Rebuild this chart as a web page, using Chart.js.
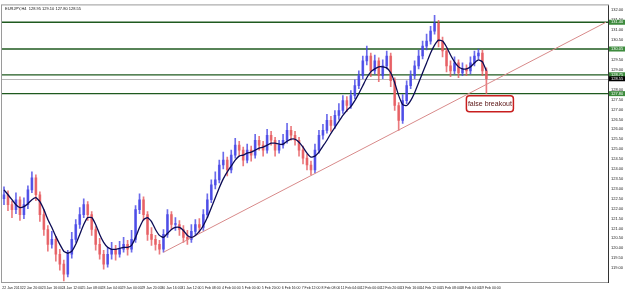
<!DOCTYPE html>
<html>
<head>
<meta charset="utf-8">
<script src="https://cdn.jsdelivr.net/npm/chart.js@4/dist/chart.umd.min.js"></script>
<style>
  html, body { margin: 0; padding: 0; background: #ffffff; }
  canvas { display: block; }
</style>
</head>
<body>
<canvas id="chart" width="625" height="295"></canvas>
<script>
var symbolTitle = "EURJPY,H4  128.95 129.10 127.80 128.55";

// one label every 5 bars
var dateLabels = [
  "22 Jan 2013", "22 Jan 20:00", "23 Jan 16:00", "24 Jan 12:00", "25 Jan 08:00",
  "28 Jan 04:00", "29 Jan 00:00", "29 Jan 20:00", "30 Jan 16:00", "31 Jan 12:00",
  "1 Feb 08:00", "4 Feb 04:00", "5 Feb 00:00", "5 Feb 20:00", "6 Feb 16:00",
  "7 Feb 12:00", "8 Feb 08:00", "11 Feb 04:00", "12 Feb 00:00", "12 Feb 20:00",
  "13 Feb 16:00", "14 Feb 12:00", "15 Feb 08:00", "18 Feb 04:00", "19 Feb 00:00"
];

var opens = [
  122.50, 122.70, 122.20, 121.95, 122.45, 121.70, 122.20, 122.95, 123.55, 122.70,
  121.70, 120.95, 120.20, 120.45, 119.70, 119.20, 118.70, 119.70, 120.45, 121.20,
  121.70, 122.20, 121.70, 120.95, 120.20, 119.70, 119.20, 119.70, 119.95, 119.70,
  119.95, 120.20, 119.95, 120.45, 121.95, 122.45, 121.70, 120.70, 120.45, 120.20,
  119.95, 120.70, 121.70, 121.20, 121.20, 120.95, 120.55, 120.45, 120.85, 121.20,
  121.05, 121.70, 122.45, 123.20, 123.45, 124.20, 124.45, 123.95, 124.70, 125.20,
  124.95, 124.45, 124.95, 124.70, 125.45, 125.20, 124.95, 125.70, 125.45, 124.95,
  125.20, 125.45, 125.95, 125.70, 125.45, 124.95, 124.55, 124.20, 123.95, 124.95,
  125.70, 125.95, 126.45, 126.20, 126.70, 126.95, 127.45, 127.20, 127.70, 128.20,
  128.70, 129.45, 129.70, 128.95, 129.45, 128.70, 129.20, 129.70, 128.45, 127.20,
  126.45, 127.45, 128.20, 128.70, 129.20, 129.70, 130.20, 130.45, 130.95, 131.35,
  130.45, 129.95, 129.20, 128.95, 129.35, 128.85, 129.05, 128.95, 129.35, 129.70,
  129.85, 128.95
];
var highs = [
  123.10, 122.90, 122.40, 122.80, 122.60, 122.55, 123.15, 123.85, 123.70, 122.85,
  121.95, 121.15, 120.85, 120.60, 119.95, 119.40, 119.90, 120.80, 121.45, 122.05,
  122.50, 122.35, 121.85, 121.10, 120.50, 119.90, 120.05, 120.30, 120.15, 120.35,
  120.55, 120.40, 120.90, 122.15, 122.75, 122.60, 121.85, 121.05, 120.65, 120.40,
  120.95, 121.95, 121.85, 121.55, 121.40, 121.15, 120.90, 121.20, 121.45, 121.50,
  121.95, 122.75, 123.45, 123.85, 124.45, 124.85, 124.60, 124.95, 125.55, 125.40,
  125.10, 125.25, 125.15, 125.75, 125.65, 125.40, 126.00, 125.90, 125.60, 125.45,
  125.75, 126.30, 126.15, 125.90, 125.60, 125.15, 124.75, 124.40, 125.25, 125.95,
  126.25, 126.75, 126.65, 126.95, 127.30, 127.70, 127.65, 127.95, 128.50, 128.95,
  129.70, 130.20, 129.85, 129.75, 129.60, 129.50, 129.95, 129.85, 128.60, 127.35,
  127.75, 128.45, 128.95, 129.45, 130.00, 130.45, 130.80, 131.20, 131.75, 131.50,
  130.65, 130.10, 129.45, 129.65, 129.50, 129.35, 129.25, 129.65, 129.95, 130.05,
  130.00, 129.10
];
var lows = [
  122.20, 121.90, 121.55, 121.75, 121.40, 121.50, 122.00, 122.80, 122.40, 121.35,
  120.65, 119.85, 120.00, 119.35, 118.90, 118.35, 118.55, 119.50, 120.30, 121.00,
  121.55, 121.40, 120.65, 119.90, 119.45, 118.95, 119.05, 119.45, 119.40, 119.55,
  119.80, 119.65, 119.80, 120.30, 121.75, 121.40, 120.40, 120.15, 119.90, 119.70,
  119.80, 120.55, 120.95, 120.90, 120.65, 120.30, 120.20, 120.30, 120.70, 120.80,
  120.90, 121.55, 122.30, 123.00, 123.30, 124.00, 123.65, 123.80, 124.55, 124.65,
  124.15, 124.30, 124.40, 124.55, 124.95, 124.65, 124.80, 125.20, 124.65, 124.80,
  125.05, 125.30, 125.45, 125.20, 124.65, 124.25, 123.95, 123.70, 123.80, 124.80,
  125.50, 125.80, 125.90, 126.05, 126.50, 126.80, 126.90, 127.05, 127.55, 128.05,
  128.55, 129.25, 128.65, 128.80, 128.40, 128.55, 129.05, 128.15, 126.95, 125.95,
  126.30, 127.30, 128.05, 128.55, 129.05, 129.55, 130.00, 130.30, 130.80, 130.15,
  129.65, 128.90, 128.65, 128.80, 128.60, 128.70, 128.70, 128.80, 129.20, 129.55,
  128.70, 127.80
];
var closes = [
  122.70, 122.20, 121.95, 122.45, 121.70, 122.20, 122.95, 123.55, 122.70, 121.70,
  120.95, 120.20, 120.45, 119.70, 119.20, 118.70, 119.70, 120.45, 121.20, 121.70,
  122.20, 121.70, 120.95, 120.20, 119.70, 119.20, 119.70, 119.95, 119.70, 119.95,
  120.20, 119.95, 120.45, 121.95, 122.45, 121.70, 120.70, 120.45, 120.20, 119.95,
  120.70, 121.70, 121.20, 121.20, 120.95, 120.55, 120.45, 120.85, 121.20, 121.05,
  121.70, 122.45, 123.20, 123.45, 124.20, 124.45, 123.95, 124.70, 125.20, 124.95,
  124.45, 124.95, 124.70, 125.45, 125.20, 124.95, 125.70, 125.45, 124.95, 125.20,
  125.45, 125.95, 125.70, 125.45, 124.95, 124.55, 124.20, 123.95, 124.95, 125.70,
  125.95, 126.45, 126.20, 126.70, 126.95, 127.45, 127.20, 127.70, 128.20, 128.70,
  129.45, 129.70, 128.95, 129.45, 128.70, 129.20, 129.70, 128.45, 127.20, 126.45,
  127.45, 128.20, 128.70, 129.20, 129.70, 130.20, 130.45, 130.95, 131.35, 130.45,
  129.95, 129.20, 128.95, 129.35, 128.85, 129.05, 128.95, 129.35, 129.70, 129.85,
  128.95, 128.55
];
var movingAvg = [
  122.95, 122.70, 122.45, 122.20, 122.05, 122.10, 122.25, 122.45, 122.55, 122.35,
  121.95, 121.45, 121.05, 120.60, 120.20, 119.85, 119.75, 119.85, 120.20, 120.70,
  121.20, 121.55, 121.55, 121.20, 120.70, 120.30, 120.05, 119.95, 119.95, 120.00,
  120.05, 120.05, 120.15, 120.55, 121.05, 121.45, 121.55, 121.35, 120.95, 120.65,
  120.55, 120.75, 120.95, 121.05, 121.05, 120.90, 120.65, 120.55, 120.65, 120.85,
  121.15, 121.55, 122.05, 122.55, 123.05, 123.50, 123.85, 124.15, 124.45, 124.65,
  124.70, 124.80, 124.85, 124.95, 125.05, 125.10, 125.20, 125.30, 125.30, 125.25,
  125.25, 125.40, 125.50, 125.50, 125.35, 125.10, 124.80, 124.60, 124.65, 124.85,
  125.15, 125.45, 125.80, 126.10, 126.40, 126.70, 126.95, 127.15, 127.45, 127.80,
  128.20, 128.60, 128.90, 129.05, 129.15, 129.15, 129.10, 128.85, 128.35, 127.70,
  127.25, 127.20, 127.45, 127.85, 128.35, 128.85, 129.35, 129.85, 130.25, 130.50,
  130.45, 130.15, 129.75, 129.40, 129.15, 129.05, 129.05, 129.15, 129.35, 129.50,
  129.40, 128.95
];

var emptyBarsRight = 30;
var levels = [131.40, 130.05, 128.75, 127.80];
var currentPrice = 128.55;
var trendFrom = { bar: 40, price: 119.80 };
var trendTo = { bar: 151, price: 131.40 };
var noteText = "false breakout";

var totalBars = closes.length + emptyBarsRight;

var labels = [];
for (var i = 0; i < totalBars; i++) {
  labels.push(i % 5 === 0 && dateLabels[i / 5] ? dateLabels[i / 5] : "");
}

var wickData = [];
var bodyData = [];
var candleColors = [];
for (var j = 0; j < closes.length; j++) {
  wickData.push([lows[j], highs[j]]);
  bodyData.push([opens[j], closes[j]]);
  candleColors.push(closes[j] >= opens[j] ? "rgba(70,70,230,0.8)" : "rgba(230,90,95,0.8)");
}

var trendData = [];
for (var k = 0; k < totalBars; k++) {
  trendData.push(null);
}
trendData[trendFrom.bar] = trendFrom.price;
trendData[trendTo.bar] = trendTo.price;

var mtPlugin = {
  id: "mtOverlay",
  beforeDatasetsDraw: function (chart) {
    var ctx = chart.ctx;
    var area = chart.chartArea;
    var y = chart.scales.y;

    ctx.save();
    // current price line
    var py = Math.round(y.getPixelForValue(currentPrice)) + 0.5;
    ctx.strokeStyle = "#b8b8b8";
    ctx.lineWidth = 1;
    ctx.beginPath();
    ctx.moveTo(area.left, py);
    ctx.lineTo(area.right, py);
    ctx.stroke();

    // support / resistance levels
    ctx.strokeStyle = "#1f5a1f";
    ctx.lineWidth = 1.3;
    levels.forEach(function (lv) {
      var ly = y.getPixelForValue(lv);
      ctx.beginPath();
      ctx.moveTo(area.left, ly);
      ctx.lineTo(area.right, ly);
      ctx.stroke();
    });
    ctx.restore();
  },
  afterDraw: function (chart) {
    var ctx = chart.ctx;
    var area = chart.chartArea;
    var y = chart.scales.y;

    ctx.save();
    // frame
    ctx.strokeStyle = "#9a9a9a";
    ctx.lineWidth = 1;
    ctx.strokeRect(area.left - 0.5, area.top - 0.5, area.right - area.left + 1, area.bottom - area.top + 1);
    ctx.strokeStyle = "#333333";
    ctx.beginPath();
    ctx.moveTo(area.right + 0.5, area.top);
    ctx.lineTo(area.right + 0.5, area.bottom + 1);
    ctx.stroke();

    // title
    ctx.fillStyle = "#111111";
    ctx.font = "4px Arial";
    ctx.textBaseline = "top";
    ctx.textAlign = "left";
    ctx.fillText(symbolTitle, area.left + 3, area.top + 1);

    // axis tags for levels and current price
    ctx.textBaseline = "middle";
    levels.forEach(function (lv) {
      var ly = y.getPixelForValue(lv);
      ctx.fillStyle = "#3d8b3d";
      ctx.fillRect(area.right + 1, ly - 2.5, 16, 5);
      ctx.fillStyle = "#ffffff";
      ctx.fillText(lv.toFixed(2), area.right + 3, ly);
    });
    var cy = y.getPixelForValue(currentPrice);
    ctx.fillStyle = "#000000";
    ctx.fillRect(area.right + 1, cy - 2.5, 16, 5);
    ctx.fillStyle = "#ffffff";
    ctx.fillText(currentPrice.toFixed(2), area.right + 3, cy);

    // annotation box under the last bar
    var x = chart.scales.x;
    var lastBar = closes.length - 1;
    var bx = x.getPixelForValue(lastBar) - 20;
    var by = y.getPixelForValue(lows[lastBar]) + 2;
    var bw = 47;
    var bh = 16;
    ctx.fillStyle = "#ffffff";
    ctx.strokeStyle = "#c81e1e";
    ctx.lineWidth = 1.5;
    ctx.beginPath();
    ctx.roundRect(bx, by, bw, bh, 3);
    ctx.fill();
    ctx.stroke();
    ctx.fillStyle = "#5a1414";
    ctx.font = "7px Arial";
    ctx.textAlign = "center";
    ctx.fillText(noteText, bx + bw / 2, by + bh / 2 + 0.5);
    ctx.restore();
  }
};

new Chart(document.getElementById("chart"), {
  type: "bar",
  data: {
    labels: labels,
    datasets: [
      {
        type: "line",
        label: "MA",
        data: movingAvg,
        borderColor: "#0b0b55",
        borderWidth: 1.3,
        pointRadius: 0,
        tension: 0.15,
        order: 1
      },
      {
        type: "line",
        label: "trend",
        data: trendData,
        borderColor: "#d88a8a",
        borderWidth: 1,
        pointRadius: 0,
        spanGaps: true,
        order: 2
      },
      {
        label: "bodies",
        data: bodyData,
        backgroundColor: candleColors,
        barThickness: 2,
        minBarLength: 1,
        grouped: false,
        order: 3
      },
      {
        label: "wicks",
        data: wickData,
        backgroundColor: candleColors,
        barThickness: 1,
        grouped: false,
        order: 4
      }
    ]
  },
  options: {
    responsive: false,
    animation: false,
    layout: { padding: { left: 2, top: 4, right: 0, bottom: 0 } },
    plugins: {
      legend: { display: false },
      tooltip: { enabled: false }
    },
    scales: {
      x: {
        offset: true,
        grid: { display: false, drawTicks: false, tickLength: 0 },
        border: { display: false },
        ticks: {
          autoSkip: false,
          maxRotation: 0,
          minRotation: 0,
          labelOffset: 8,
          padding: 4,
          color: "#222222",
          font: { size: 3.5, family: "Arial" }
        },
        afterFit: function (scale) {
          scale.height = 13;
          scale.paddingLeft = 0;
          scale.paddingRight = 0;
        }
      },
      y: {
        position: "right",
        min: 118.30,
        max: 132.25,
        grid: { display: false, drawTicks: false, tickLength: 0 },
        border: { display: false },
        ticks: {
          stepSize: 0.5,
          padding: 3,
          color: "#222222",
          font: { size: 4, family: "Arial" },
          callback: function (v) {
            return Number(v).toFixed(2);
          }
        },
        afterBuildTicks: function (scale) {
          scale.ticks = scale.ticks.filter(function (t) {
            return Math.abs(t.value * 2 - Math.round(t.value * 2)) < 1e-6;
          });
        },
        afterFit: function (scale) {
          scale.width = 17;
        }
      }
    }
  },
  plugins: [mtPlugin]
});
</script>
</body>
</html>
